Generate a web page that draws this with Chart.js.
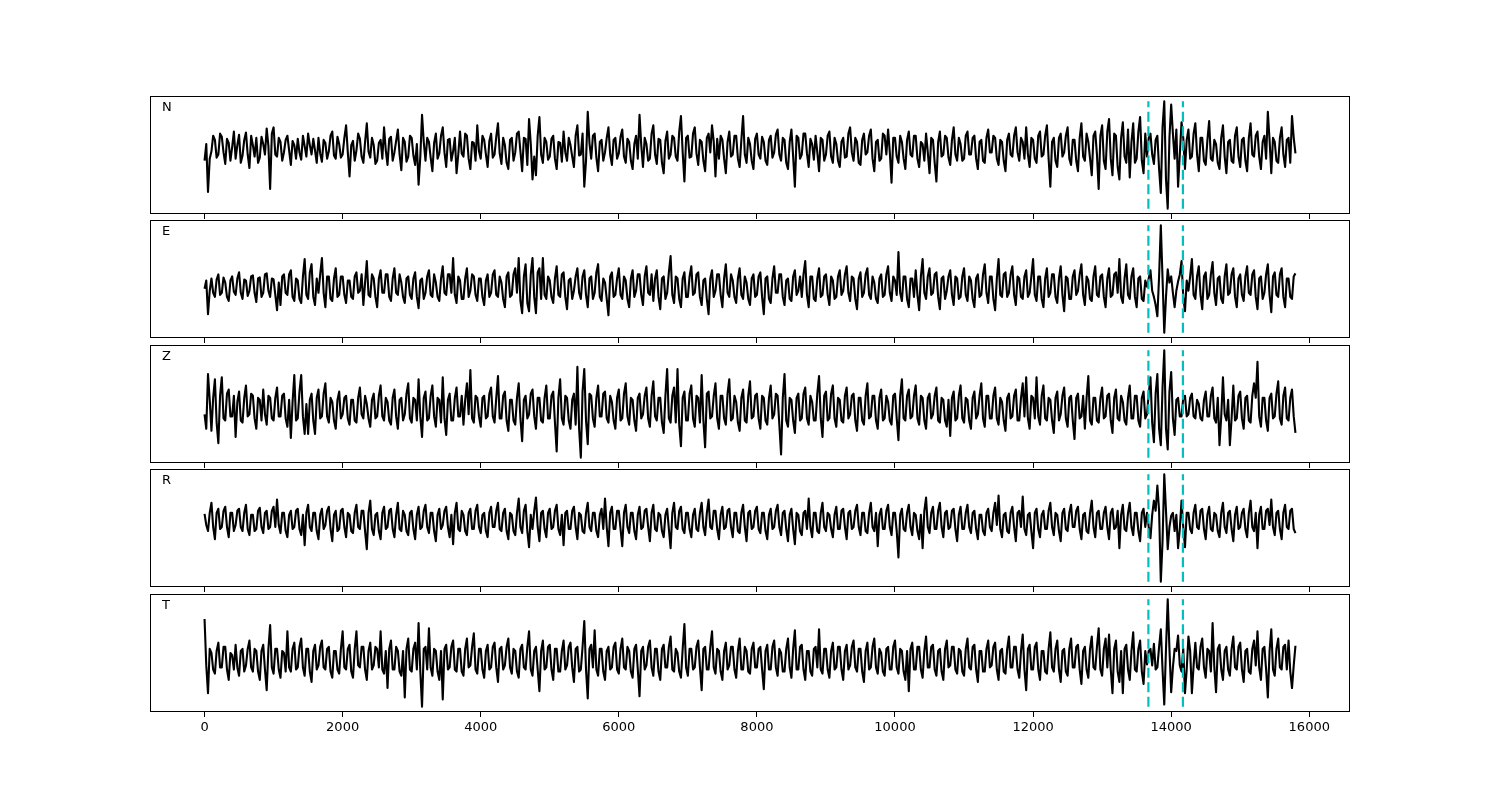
<!DOCTYPE html>
<html>
<head>
<meta charset="utf-8">
<script src="https://cdn.jsdelivr.net/npm/chart.js@4/dist/chart.umd.min.js"></script>
<style>
html, body { margin: 0; padding: 0; background: #fff; }
#fig { position: relative; width: 1500px; height: 800px; overflow: hidden; }
#fig canvas { position: absolute; }
</style>
</head>
<body>
<div id="fig"></div>
<script>
// sample interval of the traces (x units)
const STEP = 25;

// trace values, one row = 1000 x units
const N_VALUES = [
  -12,4,-42,-10,-3,12,8,-9,-6,14,11,-4,-15,9,5,-12,1,16,-10,3,13,-14,-7,8,15,-6,-19,12,3,-8,10,-14,-9,11,4,-6,19,2,-39,14,
  20,-6,-8,10,6,-12,-4,8,12,-2,-16,7,3,-10,9,-4,-11,12,2,-8,14,3,-6,9,-2,-14,10,-5,-13,8,5,-10,-3,12,16,-7,-10,11,4,-9,
  -6,10,22,-4,-27,3,7,-12,-2,14,9,-8,-14,6,24,-3,-9,10,3,-15,-12,5,8,-10,20,-2,-16,9,11,-12,-4,7,18,-6,-21,10,6,-13,-8,12,
  10,-7,-16,4,-35,-8,32,6,-12,10,6,-9,-22,5,14,-10,-5,12,20,-4,-18,8,9,-12,-3,10,-24,-6,16,-5,-8,14,12,-10,-20,6,5,-12,22,-3,
  -10,12,8,-6,-18,7,14,-9,-6,11,24,-5,-15,10,3,-14,-20,8,10,-12,-4,14,16,-3,-22,10,9,-16,28,4,-30,-8,-26,12,30,-6,-14,10,6,-11,
  -8,9,12,-10,-20,6,5,-13,16,-4,-12,10,3,-8,-18,12,22,-7,-6,14,-37,-12,35,5,-10,12,14,-9,-22,6,8,-12,-4,10,20,-6,-16,8,10,-10,
  -5,11,18,-8,-14,9,6,-12,-20,4,12,-10,32,3,-18,10,4,-12,-10,14,22,-6,-15,9,8,-14,-24,7,16,-10,-6,12,10,-8,-12,16,31,-4,-32,10,
  12,-9,-8,14,20,-5,-16,8,6,-12,-22,10,14,-4,22,6,-27,9,-10,12,8,-10,-24,6,16,-8,-6,12,12,-10,-18,8,31,-6,-14,10,4,-12,-20,9,
  14,-6,-10,11,6,-12,-16,8,12,-9,-4,13,18,-6,-12,10,8,-14,-20,6,18,-8,-37,12,10,-10,-6,14,14,-5,-18,9,4,-11,12,-4,-22,10,8,-12,
  -6,12,16,-8,-14,10,4,-12,-18,6,10,-9,-8,14,20,-4,-12,10,6,-14,-16,8,14,-6,-4,12,18,-10,-22,6,8,-12,-10,14,12,-6,18,-4,-33,10,
  10,-8,-14,12,6,-10,-20,8,16,-6,-8,12,12,-10,-18,6,4,-12,14,-4,-24,10,8,-14,-32,6,16,-8,-6,12,10,-9,-16,8,20,-6,-12,10,4,-12,
  -10,12,16,-6,-6,10,12,-10,-20,6,8,-12,-14,10,18,-4,-4,12,10,-10,-16,8,6,-12,-22,8,14,-6,-8,12,20,-4,-12,10,6,-10,20,-6,-18,10,
  8,-10,-14,12,16,-8,-6,12,22,-10,-37,6,10,-12,-18,10,14,-8,-4,12,20,-10,-16,8,8,-12,-22,10,24,-8,-12,14,6,-10,-26,12,16,-6,-39,12,
  22,-12,-20,16,28,-10,-26,14,12,-18,-30,10,25,-8,-14,18,-28,6,24,-14,-10,16,30,-12,-24,14,-8,10,14,-6,-15,8,12,-20,-43,20,45,-30,-58,10,
  42,14,-10,18,-37,-6,25,10,-20,8,18,-10,-8,14,24,-6,-22,10,10,-12,-16,8,26,-10,-12,8,4,-14,-20,10,22,-8,-24,6,8,-12,-14,12,20,-8,
  -18,8,10,-12,-22,10,24,-6,-8,12,16,-8,-20,6,12,-10,35,8,-24,10,6,-12,-14,10,20,-6,-18,8,10,-14,31,10,-5
];

const E_VALUES = [
  -2,6,-27,-4,8,-6,-10,7,12,-8,-6,9,4,-10,-14,6,10,-5,-8,8,14,-6,-12,7,6,-9,-4,10,11,-6,-15,8,9,-10,-6,12,13,-4,-10,8,
  7,-8,-23,4,-18,10,12,-6,-8,12,16,-10,-14,8,6,-12,-16,10,27,-8,-12,14,22,-10,-18,8,-6,12,28,-6,-20,10,10,-12,-14,8,18,-10,-8,10,
  10,-8,-16,6,6,-10,-12,10,14,-6,-4,12,-18,4,25,-8,-10,12,8,-10,-20,8,16,-6,-6,12,12,-10,-14,8,18,-6,-8,12,4,-10,-16,8,10,-8,
  -12,8,14,-10,-21,6,8,-12,-6,10,16,-8,-10,12,4,-10,-14,8,20,-6,-8,12,12,-6,28,-8,-16,10,6,-12,-12,8,18,-10,-4,12,10,-8,-14,8,
  8,-10,-18,6,12,-10,-6,12,16,-8,-10,10,4,-12,-20,10,14,-10,-8,12,18,-6,28,-14,-26,10,22,-16,-24,12,28,-10,-26,14,18,-12,28,-8,-12,10,
  6,-10,-16,8,20,-8,-10,12,14,-10,-22,6,8,-12,-4,10,18,-6,-12,10,16,-8,-20,8,10,-12,-6,14,22,-10,-14,8,4,-12,-28,10,14,-10,-8,8,
  18,-8,-12,10,6,-12,-20,8,16,-10,-4,12,12,-8,-18,10,20,-6,-8,12,-14,8,16,-10,-22,8,10,-12,-6,14,30,-8,-16,10,8,-12,-20,8,14,-10,
  -10,10,20,-8,-6,12,14,-10,-18,6,8,-12,-27,8,16,-10,-4,12,12,-8,-20,8,22,-6,-10,12,6,-10,-16,8,18,-8,-12,10,4,-12,-18,8,12,-10,
  -8,10,14,-10,-27,8,10,-12,-16,8,20,-6,-6,12,12,-10,-18,6,8,-12,-14,10,16,-8,-4,10,-10,12,25,-8,-20,10,10,-12,-14,8,18,-10,-8,10,
  12,-8,-18,10,6,-12,-10,10,16,-8,-4,12,20,-6,-14,10,8,-12,-22,8,14,-10,-6,12,18,-8,-12,10,4,-12,-16,8,12,-10,-8,12,20,-6,-14,10,
  6,-8,34,-6,-14,10,10,-12,-20,8,8,-10,16,-8,-23,10,27,-6,-12,10,18,-8,-6,12,14,-10,-22,8,10,-12,-4,10,16,-8,-18,10,8,-12,-10,10,
  18,-8,-14,10,6,-12,-20,8,12,-10,-8,12,22,-6,-16,10,10,-12,-23,8,27,-8,-10,12,14,-10,-6,12,20,-8,-18,10,8,-10,-12,10,16,-10,-6,10,
  27,-8,-14,10,10,-12,-20,8,18,-10,-6,12,12,-10,-16,8,20,-8,-24,10,8,-12,-12,10,16,-8,-4,12,22,-8,-18,10,6,-12,-14,10,20,-8,-10,10,
  12,-10,-20,8,18,-10,-8,12,14,-6,27,-10,-16,8,22,-8,-12,10,18,-10,-20,8,10,-12,-14,6,0,8,16,-4,-10,-18,-29,10,60,8,-45,-10,17,4,
  10,-6,-20,-4,5,12,25,-10,-24,6,-4,10,27,-8,-12,10,20,-8,-22,10,14,-12,-8,12,24,-6,-18,8,10,-12,-16,10,22,-8,-6,12,18,-10,-20,8,
  12,-8,-14,10,20,-6,-8,12,16,-10,-22,8,10,-12,-6,12,22,-8,-25,10,14,-8,-10,12,18,-10,-20,8,8,-10,-12,10,13
];

const Z_VALUES = [
  -6,-20,33,8,-22,10,28,-14,-34,12,30,-10,-12,14,18,-8,-8,12,-28,6,16,-12,-14,10,22,-8,-6,14,12,-10,-20,10,8,-12,18,-6,-16,12,10,-10,
  -12,10,20,-8,-8,12,14,-10,-18,8,-29,6,32,-12,-10,16,32,-8,-25,4,-25,8,14,-12,-25,10,18,-10,-8,14,24,-8,-14,10,6,-12,-20,8,16,-10,
  -6,10,12,-10,-16,8,8,-12,-14,10,20,-6,-10,12,4,-10,-18,8,14,-10,-8,12,22,-8,-12,10,6,-12,-16,10,18,-8,-20,8,10,-12,-6,14,24,-10,
  -14,10,8,-12,28,-8,-28,10,16,-12,-10,12,22,-8,-18,10,8,-14,30,-10,-26,8,14,-12,-12,10,20,-8,-8,12,-16,8,24,-6,37,-10,-14,12,10,-8,
  -18,10,12,-10,-8,14,20,-8,-14,10,31,-10,-10,12,16,-12,-22,8,8,-12,-16,10,24,-10,-32,8,12,-10,-6,14,18,-8,-20,10,10,-12,-14,10,22,-10,
  -10,12,16,-14,-42,10,28,-10,-16,12,10,-12,-20,8,14,-16,40,-20,-48,16,38,-12,-35,14,12,-10,-18,10,22,-8,-8,14,16,-10,-14,12,6,-12,-20,10,
  18,-12,-10,14,24,-8,-16,10,8,-12,-22,10,14,-10,-6,12,20,-10,-18,12,26,-8,-12,10,10,-14,-24,12,38,-10,-14,12,20,-14,38,-16,-37,10,16,-12,
  -12,14,22,-10,-18,12,10,-14,32,-12,-38,14,16,-10,-8,12,24,-10,-20,12,12,-10,-16,14,28,-12,-10,12,6,-14,-22,10,18,-12,-14,12,26,-10,-8,12,
  14,-10,-20,12,10,-12,-16,10,22,-10,-6,14,12,-16,-45,10,33,-12,-18,10,8,-12,-24,10,14,-12,-10,14,20,-10,-16,12,6,-12,-12,14,31,-10,-28,12,
  16,-12,-10,14,22,-10,-18,10,8,-12,-14,12,20,-10,-6,12,14,-12,-22,10,10,-12,-16,12,24,-10,-8,12,12,-12,-20,10,18,-12,-10,12,6,-12,-16,12,
  14,-10,-31,12,28,-10,-12,12,18,-10,-8,12,22,-10,-16,12,10,-12,-20,10,14,-10,-6,12,20,-12,-14,10,8,-12,-18,8,-27,10,16,-12,-10,12,22,-10,
  -14,10,8,-12,-20,10,16,-10,-6,12,24,-10,-18,12,12,-10,-10,12,20,-10,-16,10,6,-12,-22,10,14,-10,-8,12,18,-12,-12,10,24,-8,30,-10,-20,12,
  10,-10,30,-8,-16,12,22,-10,-12,10,8,-12,-24,10,16,-12,-6,12,20,-10,-18,10,12,-12,-30,10,14,-10,-8,12,-20,10,31,-12,-16,10,10,-12,-14,10,
  20,-10,-8,12,14,-12,-24,10,18,-10,-12,12,6,-12,-16,10,22,-10,-10,12,12,-12,-18,10,16,-10,-6,14,30,-14,-33,14,33,-20,-36,20,56,-20,-40,16,
  35,-10,-26,8,10,-8,-8,10,12,-8,-6,10,14,-8,-10,8,4,-10,-12,8,16,-8,-8,12,20,-10,-14,10,-36,-8,30,-6,-12,8,-36,-10,22,-12,-10,12,
  16,-10,-20,10,12,-12,-14,12,24,10,45,-8,-18,10,10,-12,-22,10,14,-10,-8,14,26,-10,-16,12,20,-10,-12,10,18,-8,-24
];

const R_VALUES = [
  7,-4,-10,8,18,-6,-18,8,12,-8,-6,10,14,-6,-16,8,8,-10,-4,10,12,-6,-10,8,16,-8,-14,6,6,-10,-8,10,13,-6,-12,8,10,-8,-6,10,
  14,-6,21,-4,-12,8,8,-10,-16,6,10,-8,-6,10,12,-8,-14,6,-24,8,16,-6,-10,8,8,-10,-18,6,12,-8,-4,10,14,-8,-20,6,10,-10,-8,10,
  12,-6,-16,8,6,-10,-12,8,16,-6,-8,10,10,-10,-28,8,20,-8,-14,6,8,-10,-18,8,14,-8,-6,10,12,-8,-16,6,18,-8,-10,10,6,-10,-14,8,
  10,-8,-18,6,14,-8,-6,10,16,-6,-12,8,8,-10,-20,6,12,-8,-4,10,14,-6,-16,6,-23,8,18,-8,-10,10,6,-10,-14,8,12,-8,-8,10,16,-6,
  -12,6,8,-10,-16,8,14,-6,-6,10,18,-8,-10,8,12,-10,-18,8,6,-10,-14,8,22,-6,-12,10,16,-10,-26,6,-8,10,23,-6,-20,8,10,-8,-16,8,
  12,-8,-6,10,16,-8,-14,6,-24,8,10,-8,-8,10,14,-6,-18,8,6,-10,-12,8,18,-6,-10,8,8,-10,-16,6,12,-8,22,-6,-25,8,14,-8,-8,10,
  10,-8,-25,8,16,-6,-12,8,8,-10,-18,6,14,-8,-6,10,12,-6,-20,8,16,-8,-10,8,6,-10,-16,6,12,-8,-27,8,18,-6,-8,10,14,-8,-12,8,
  8,-8,-16,6,12,-8,-10,8,18,-6,-14,8,21,-6,-8,10,10,-8,-18,6,14,-8,-6,10,12,-6,-16,8,8,-10,-12,8,16,-6,-20,8,10,-8,-6,10,
  14,-8,-12,8,8,-10,-18,6,12,-8,-6,10,16,-6,-14,8,10,-8,-20,6,12,-8,-23,8,6,-10,-14,8,10,-8,22,-6,-16,8,8,-10,-12,8,18,-6,
  -10,8,6,-8,-16,6,14,-8,-8,10,12,-6,-18,8,10,-8,-6,10,16,-6,-14,8,8,-10,-12,8,18,-6,-10,8,-25,6,12,-8,-8,10,16,-6,-14,8,
  8,-10,-36,6,12,-8,-10,8,16,-6,-14,8,6,-10,-18,6,-27,10,23,-6,-12,8,14,-8,-8,10,18,-6,-16,8,10,-8,-6,10,12,-8,-20,6,14,-8,
  -8,8,16,-6,-12,8,10,-8,-18,6,6,-10,-14,8,12,-6,-10,8,18,-4,25,-8,-16,6,8,-10,-12,8,14,-6,-20,8,10,-6,24,-8,-14,6,8,-10,
  -27,8,12,-8,-16,6,10,-8,-8,10,18,-6,-14,8,6,-10,-20,8,12,-8,-10,8,16,-6,-6,10,14,-8,-18,6,8,-10,-12,8,20,-6,-16,8,10,-8,
  -8,8,14,-6,-18,8,12,-8,-6,10,-27,6,16,-8,-10,8,18,-6,-14,8,8,-10,-20,8,12,-6,8,-6,-17,6,20,10,35,10,-60,-20,46,10,-28,-6,
  5,8,-10,6,-27,-8,20,-6,-26,8,8,-8,-12,8,16,-6,-8,10,12,-8,-18,6,14,-8,-10,8,6,-10,-16,8,18,-6,-12,8,10,-8,-20,6,14,-8,
  -6,8,12,-8,-16,8,20,-6,-10,8,-27,6,14,-8,-8,10,12,-4,21,-6,-14,8,10,-8,-18,8,16,-6,-8,10,12,-8,-12
];

const T_VALUES = [
  39,-6,-33,10,6,-10,-14,8,16,-8,-8,12,12,-10,-20,6,4,-10,14,-8,-16,8,10,-12,-6,10,18,-8,-12,10,8,-12,-20,8,14,-10,-30,10,33,-8,
  -14,10,10,-10,-18,8,6,-12,27,-8,-12,10,16,-10,-8,12,20,-8,-16,10,10,-12,-22,8,14,-10,-6,12,18,-8,-10,10,12,-12,-18,8,8,-10,-14,10,
  27,-8,-10,10,14,-12,-18,10,27,-6,-8,12,12,-10,-20,8,16,-10,-6,12,10,-8,27,-10,-14,8,-28,10,18,-10,-10,12,8,-12,-16,8,-37,10,20,-10,
  -12,10,16,-10,35,-12,-46,10,12,-10,30,-8,-16,10,8,-12,-20,8,-39,10,14,-10,-8,12,18,-10,-12,10,10,-12,-16,10,20,-8,-6,12,25,-10,-14,10,
  10,-10,-18,8,14,-10,-8,12,16,-8,-22,10,12,-10,-6,12,20,-8,-14,10,8,-12,-18,10,14,-8,-10,12,27,-10,-16,8,12,-10,-31,8,18,-10,-8,12,
  14,-10,-20,10,10,-12,-12,8,18,-10,-6,12,16,-8,-22,10,12,-12,-10,12,37,-10,-38,10,14,-8,28,-10,-16,10,10,-12,-20,8,12,-10,-8,12,16,-10,
  -14,10,20,-8,-10,12,8,-12,-18,10,14,-10,-36,8,12,-10,-6,12,18,-8,-16,10,10,-12,-20,10,14,-8,-8,12,22,-10,-12,10,6,-12,-18,10,34,-8,
  -16,10,10,-10,-8,12,18,-8,-30,10,12,-10,-10,12,27,-8,-14,10,8,-12,-20,8,16,-10,-6,12,12,-10,-18,8,20,-10,-10,12,8,-12,-14,10,16,-8,
  -8,10,12,-10,-29,8,14,-10,-10,12,18,-8,-16,10,6,-12,-12,10,20,-8,-18,10,28,-10,-10,12,14,-10,-20,8,8,-12,-16,10,12,-8,29,-10,-14,10,
  10,-10,-18,8,16,-10,-8,12,12,-10,-20,8,14,-10,-6,12,18,-8,-12,10,10,-12,-22,8,16,-10,-8,12,20,-8,-14,10,6,-12,-16,10,12,-10,-10,12,
  18,-8,-14,10,8,-12,-20,8,-31,10,16,-10,-10,12,12,-10,-18,8,22,-8,-8,12,14,-10,-16,8,10,-12,-20,10,18,-8,-6,12,12,-10,-14,10,8,-12,
  -16,10,20,-8,-10,12,14,-10,-22,8,8,-12,-12,10,18,-8,-6,12,16,-10,-20,8,10,-12,-14,10,22,-8,-8,12,12,-10,-18,8,24,-10,-30,10,14,-10,
  -10,12,16,-10,-20,8,8,-12,-14,10,26,-8,-12,10,18,-10,-22,8,10,-12,-16,10,20,-8,-8,12,14,-10,-24,8,12,-10,-18,10,22,-8,-10,12,30,-10,
  -16,10,20,-8,24,-10,-33,10,18,-12,-22,8,-33,10,14,-10,-20,8,26,-10,-12,10,18,-12,-24,8,-5,8,10,-6,15,-10,-8,12,29,-10,-44,10,58,10,
  -32,-8,10,8,23,-6,-12,10,-33,-10,22,8,-33,-6,16,-8,-10,12,20,-8,-18,10,8,-12,35,-8,-32,10,14,-10,-20,8,12,-10,-16,10,22,-8,-10,12,
  16,-10,-22,8,10,-12,-14,10,18,-6,27,-8,-20,10,12,-10,-37,8,29,-10,-16,10,20,-8,-10,12,14,-10,18,-12,-28,-6,13
];

const COMPONENTS = ['N', 'E', 'Z', 'R', 'T'];
const SERIES = [N_VALUES, E_VALUES, Z_VALUES, R_VALUES, T_VALUES];

// picked arrival times (cyan dashed lines)
const PICKS = [13670, 14170];

const X_TICKS = [0, 2000, 4000, 6000, 8000, 10000, 12000, 14000, 16000];

// panel boxes on the page
const PANEL_LEFT = 150;
const PANEL_WIDTH = 1200;
const PANEL_TOPS = [96, 220, 345, 469, 594];
const PANEL_H = 118;

const fig = document.getElementById('fig');

function framePlugin(label) {
    return {
        id: 'frame',
        afterDraw(chart) {
            const ctx = chart.ctx;
            const a = chart.chartArea;
            ctx.save();
            ctx.strokeStyle = '#000';
            ctx.lineWidth = 1;
            ctx.strokeRect(Math.round(a.left) + 0.5, Math.round(a.top) + 0.5,
                Math.round(a.right - a.left) - 1, Math.round(a.bottom - a.top) - 1);
            ctx.fillStyle = '#000';
            ctx.font = '13px "DejaVu Sans"';
            ctx.textBaseline = 'middle';
            ctx.fillText(label, a.left + 12, a.top + 12);
            ctx.restore();
        }
    };
}

SERIES.forEach((values, i) => {
    const last = i === SERIES.length - 1;
    const axisH = last ? 30 : 5;

    const canvas = document.createElement('canvas');
    canvas.width = PANEL_WIDTH + 2;
    canvas.height = 1 + PANEL_H + axisH;
    canvas.style.left = (PANEL_LEFT - 1) + 'px';
    canvas.style.top = (PANEL_TOPS[i] - 1) + 'px';
    fig.appendChild(canvas);

    const points = values.map((v, k) => ({ x: k * STEP, y: v }));

    // matplotlib style 5% margins around the data
    const xLast = (values.length - 1) * STEP;
    const xPad = xLast * 0.05;
    const lo = Math.min(...values);
    const hi = Math.max(...values);
    const yPad = (hi - lo) * 0.05;

    const datasets = [{
        data: points,
        borderColor: '#000',
        borderWidth: 2.1,
        borderJoinStyle: 'round',
        pointRadius: 0,
        tension: 0,
        order: 2
    }];
    PICKS.forEach(p => {
        datasets.push({
            data: [{ x: p, y: lo }, { x: p, y: hi }],
            borderColor: '#00bfbf',
            borderWidth: 2.2,
            borderDash: [10, 4.5],
            pointRadius: 0,
            order: 1
        });
    });

    new Chart(canvas, {
        type: 'line',
        data: { datasets: datasets },
        options: {
            responsive: false,
            animation: false,
            events: [],
            layout: { padding: { left: 1, right: 1, top: 1, bottom: 0 } },
            plugins: {
                legend: { display: false },
                tooltip: { enabled: false }
            },
            scales: {
                x: {
                    type: 'linear',
                    min: -xPad,
                    max: xLast + xPad,
                    afterBuildTicks: s => { s.ticks = X_TICKS.map(v => ({ value: v })); },
                    afterFit: s => { s.height = axisH; },
                    border: { display: false },
                    grid: {
                        drawOnChartArea: false,
                        drawTicks: true,
                        tickLength: 5,
                        color: '#000',
                        lineWidth: 1
                    },
                    ticks: {
                        display: last,
                        color: '#000',
                        padding: 3,
                        maxRotation: 0,
                        autoSkip: false,
                        font: { family: 'DejaVu Sans', size: 13 },
                        callback: v => String(v)
                    }
                },
                y: {
                    display: false,
                    min: lo - yPad,
                    max: hi + yPad
                }
            }
        },
        plugins: [framePlugin(COMPONENTS[i])]
    });
});
</script>
</body>
</html>
